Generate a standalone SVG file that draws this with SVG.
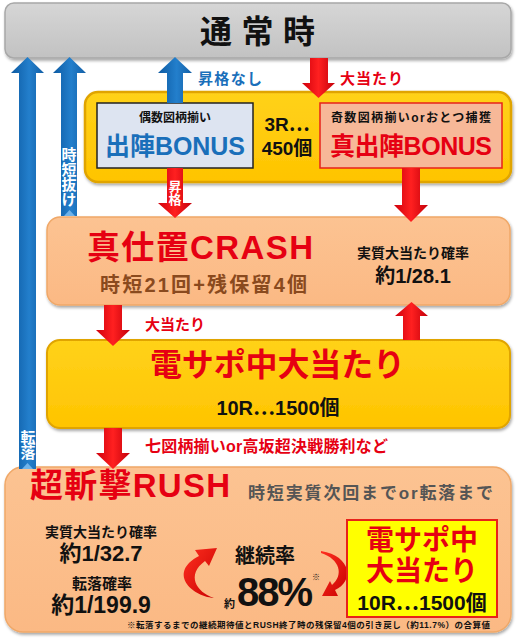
<svg xmlns="http://www.w3.org/2000/svg" width="517" height="640" viewBox="0 0 517 640">
<defs>
<style>
.t{font-family:"Liberation Sans","Noto Sans CJK JP",sans-serif;font-weight:bold;}
.j{font-family:"Noto Sans CJK JP",sans-serif;}
.v{font-family:"Noto Sans CJK JP",sans-serif;font-weight:bold;writing-mode:vertical-rl;fill:#fff;}
.m{text-anchor:middle;}
.red{fill:#e60012;}
.blu{fill:#1a6fba;}
.blk{fill:#111;}
.wht{fill:#fff;}
</style>
<filter id="sh" x="-5%" y="-5%" width="110%" height="120%">
<feDropShadow dx="1" dy="2" stdDeviation="1.5" flood-color="#000" flood-opacity="0.35"/>
</filter>
<linearGradient id="gray" x1="0" y1="0" x2="0" y2="1">
<stop offset="0" stop-color="#d6d6d6"/><stop offset="1" stop-color="#c2c2c2"/>
</linearGradient>
<linearGradient id="yel" x1="0" y1="0" x2="0" y2="1">
<stop offset="0" stop-color="#ffd21a"/><stop offset="1" stop-color="#ffc400"/>
</linearGradient>
<linearGradient id="pea" x1="0" y1="0" x2="0" y2="1">
<stop offset="0" stop-color="#fcc392"/><stop offset="1" stop-color="#fbb984"/>
</linearGradient>
<linearGradient id="bg" x1="0" y1="0" x2="1" y2="0">
<stop offset="0" stop-color="#0c5aa2"/><stop offset="0.55" stop-color="#237fcc"/><stop offset="1" stop-color="#135fa6"/>
</linearGradient>
<linearGradient id="rg" x1="0" y1="0" x2="1" y2="0">
<stop offset="0" stop-color="#d0000c"/><stop offset="0.5" stop-color="#ff2020"/><stop offset="1" stop-color="#c4000a"/>
</linearGradient>
<linearGradient id="rc" x1="0" y1="0" x2="1" y2="1">
<stop offset="0" stop-color="#ff3020"/><stop offset="1" stop-color="#c80000"/>
</linearGradient>
</defs>

<rect x="0" y="0" width="517" height="640" fill="#fff"/>

<g id="normal">
<rect x="5" y="3" width="506" height="55" rx="9" fill="url(#gray)" stroke="#a8a8a8" stroke-width="1.5" filter="url(#sh)"/>
<text class="t blk" x="200" y="43" font-size="32" textLength="115">通常時</text>
</g>

<g id="bonus">
<rect x="85" y="92" width="426" height="90" rx="13" fill="url(#yel)" stroke="#e0a400" stroke-width="2.5" filter="url(#sh)"/>
<g id="shutsujin">
<rect x="97" y="103" width="156" height="65" fill="#dde4f1" stroke="#222" stroke-width="1.5"/>
<text class="t blk m" x="175" y="122" font-size="12">偶数図柄揃い</text>
<text class="t blu" x="105" y="155" font-size="25" textLength="140">出陣BONUS</text>
</g>
<text class="t blk m" x="287" y="131" font-size="19">3R<tspan class="j">…</tspan></text>
<text class="t blk m" x="287" y="155" font-size="19">450個</text>
<g id="shin-shutsujin">
<rect x="320" y="103" width="182" height="65" fill="#f7b898" stroke="#e8221a" stroke-width="1.5"/>
<text class="t blk" x="331" y="122" font-size="12" textLength="160">奇数図柄揃いorおとつ捕獲</text>
<text class="t red" x="330" y="155" font-size="25" textLength="162">真出陣BONUS</text>
</g>
</g>

<g id="crash">
<rect x="47" y="217" width="463" height="88" rx="13" fill="url(#pea)" stroke="#f0a868" stroke-width="1.5" filter="url(#sh)"/>
<text class="t red" x="87" y="259" font-size="33" textLength="226">真仕置CRASH</text>
<text class="t" x="100" y="292" font-size="20" fill="#8a4a1e" textLength="207">時短21回+残保留4個</text>
<text class="t blk m" x="413" y="258" font-size="14">実質大当たり確率</text>
<text class="t blk m" x="413" y="283" font-size="20">約1/28.1</text>
</g>

<g id="densapo">
<rect x="47" y="340" width="463" height="88" rx="13" fill="url(#yel)" stroke="#e0a400" stroke-width="2" filter="url(#sh)"/>
<text class="t red" x="150" y="376" font-size="32" textLength="255">電サポ中大当たり</text>
<text class="t blk m" x="278" y="415" font-size="20">10R<tspan class="j">…</tspan>1500個</text>
</g>

<g id="rush">
<rect x="5" y="467" width="506" height="165" rx="18" fill="url(#pea)" stroke="#f0a868" stroke-width="1.5" filter="url(#sh)"/>
<text class="t red" x="30" y="497" font-size="33" textLength="200">超斬撃RUSH</text>
<text class="t" x="248" y="499" font-size="17" fill="#555" font-weight="normal" textLength="245">時短実質次回までor転落まで</text>
<text class="t blk m" x="101" y="537" font-size="14">実質大当たり確率</text>
<text class="t blk m" x="101" y="561" font-size="22">約1/32.7</text>
<text class="t blk m" x="102" y="589" font-size="15">転落確率</text>
<text class="t blk m" x="101" y="613" font-size="23">約1/199.9</text>
<text class="t blk m" x="265" y="563" font-size="20">継続率</text>
<text class="t blk" x="224" y="608" font-size="11">約</text>
<text class="t blk" x="237" y="606" font-size="40" textLength="76">88%</text>
<text class="t blk" x="312" y="580" font-size="8">※</text>
<path d="M214,598 C190,596 168,572 199,556 L195,550 L217,548 L209,566 L205,561 C186,575 196,592 214,598 Z" fill="url(#rc)"/>
<path d="M321,551 C352,556 354,582 335,590 L338,596 L322,596 L330,581 L332,585 C344,575 340,559 321,553 Z" fill="url(#rc)"/>
<g id="rush-densapo">
<rect x="347" y="520" width="150" height="97" fill="#ffff00" stroke="#e8221a" stroke-width="2"/>
<text class="t red m" x="422" y="550" font-size="28">電サポ中</text>
<text class="t red m" x="422" y="581" font-size="28">大当たり</text>
<text class="t blk m" x="422" y="610" font-size="21">10R<tspan class="j">…</tspan>1500個</text>
</g>
<text class="t blk" x="127" y="628" font-size="8.5" textLength="363">※転落するまでの継続期待値とRUSH終了時の残保留4個の引き戻し（約11.7%）の合算値</text>
</g>

<g id="connectors">
<path d="M27.5,57 L44,73 L36,73 L36,469 L19,469 L19,73 L11,73 Z" fill="url(#bg)"/>
<path d="M22,469 L27.5,463 L33,469 Z" fill="#6fb3ea"/>
<text class="v" x="28" y="430" font-size="15">転落</text>
<path d="M69.5,57 L86,73 L77,73 L77,216 L61,216 L61,73 L53,73 Z" fill="url(#bg)"/>
<path d="M64,216 L69.5,210 L75,216 Z" fill="#6fb3ea"/>
<text class="v" x="69" y="147" font-size="15">時短抜け</text>
<path d="M175,57 L192,73 L183,73 L183,103 L167,103 L167,73 L158,73 Z" fill="url(#bg)"/>
<text class="t blu" x="198" y="84" font-size="15" textLength="64">昇格なし</text>
<path d="M310,58 L328,58 L328,83 L335,83 L318.5,98 L302,83 L310,83 Z" fill="url(#rg)"/>
<text class="t red" x="340" y="84" font-size="15" textLength="63">大当たり</text>
<path d="M167,168 L183,168 L183,203 L192,203 L175,218 L158,203 L167,203 Z" fill="url(#rg)"/>
<text class="v" x="175" y="180" font-size="13">昇格</text>
<path d="M402,168 L420,168 L420,205 L428,205 L411,222 L394,205 L402,205 Z" fill="url(#rg)"/>
<path d="M104,305 L122,305 L122,330 L130,330 L113,346 L96,330 L104,330 Z" fill="url(#rg)"/>
<text class="t red" x="145" y="330" font-size="15" textLength="60">大当たり</text>
<path d="M403,340 L420,340 L420,316 L428,316 L411.5,302 L395,316 L403,316 Z" fill="url(#rg)"/>
<path d="M104,428 L122,428 L122,453 L130,453 L113,469 L96,453 L104,453 Z" fill="url(#rg)"/>
<text class="t red" x="145" y="452" font-size="16" textLength="243">七図柄揃いor高坂超決戦勝利など</text>
</g>
</svg>
